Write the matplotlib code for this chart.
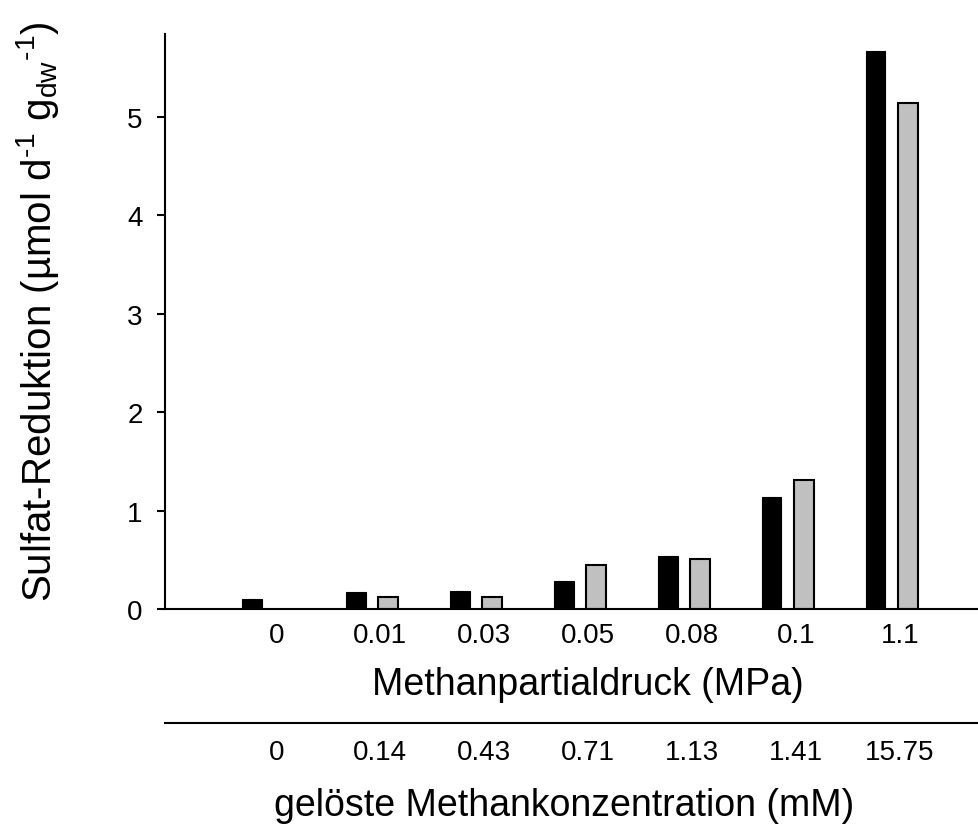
import matplotlib
matplotlib.use("Agg")
import matplotlib.pyplot as plt
import numpy as np

plt.rcParams["font.family"] = ["Liberation Sans", "DejaVu Sans"]
plt.rcParams["mathtext.fontset"] = "custom"
plt.rcParams["mathtext.rm"] = "Liberation Sans"
plt.rcParams["mathtext.it"] = "Liberation Sans"
plt.rcParams["mathtext.default"] = "regular"

# data
pressure_labels = ["0", "0.01", "0.03", "0.05", "0.08", "0.1", "1.1"]
conc_labels = ["0", "0.14", "0.43", "0.71", "1.13", "1.41", "15.75"]
black_vals = [0.11, 0.175, 0.19, 0.29, 0.54, 1.145, 5.67]
gray_vals = [np.nan, 0.125, 0.125, 0.45, 0.51, 1.31, 5.14]

fig = plt.figure(figsize=(9.79, 8.28), dpi=100)
ax = fig.add_axes([0.1685, 0.2627, 0.8315, 0.695])

x = np.arange(len(pressure_labels))
w = 0.19
off = 0.155
ax.bar(x - off, black_vals, w, color="black", edgecolor="black", linewidth=0.8)
ax.bar(x + off, gray_vals, w, color="#c0c0c0", edgecolor="black", linewidth=1.5)

ax.set_xlim(-0.99, 6.84)
ax.set_ylim(0, 5.84)
ax.set_yticks([0, 1, 2, 3, 4, 5])
ax.set_xticks(x + 0.08)
ax.set_xticklabels(pressure_labels)
ax.tick_params(axis="x", length=0, pad=9, labelsize=20)
ax.tick_params(axis="y", length=6, width=1.5, pad=10, labelsize=20, direction="out")

for side in ["top", "right"]:
    ax.spines[side].set_visible(False)
ax.spines["left"].set_linewidth(1.5)
ax.spines["bottom"].set_linewidth(1.5)

ax.set_ylabel("Sulfat-Reduktion (µmol d$^{\u20101}$ g$_{dw}$$^{\u20101}$)", fontsize=29)
ax.yaxis.set_label_coords(-0.128, 0.52)

# second axis row: dissolved methane concentration
trans = ax.get_xaxis_transform()
ax.text(0.52, -0.13, "Methanpartialdruck (MPa)", transform=ax.transAxes,
        ha="center", va="center", fontsize=27)
ax.plot([0, 1], [-0.197, -0.197], transform=ax.transAxes, color="black",
        linewidth=1.5, clip_on=False)
for xi, lab in zip(x + 0.08, conc_labels):
    ax.text(xi, -0.247, lab, transform=trans, ha="center", va="center", fontsize=20)
ax.text(0.49, -0.34, "gelöste Methankonzentration (mM)", transform=ax.transAxes,
        ha="center", va="center", fontsize=27)

fig.savefig("out.png", dpi=100)
